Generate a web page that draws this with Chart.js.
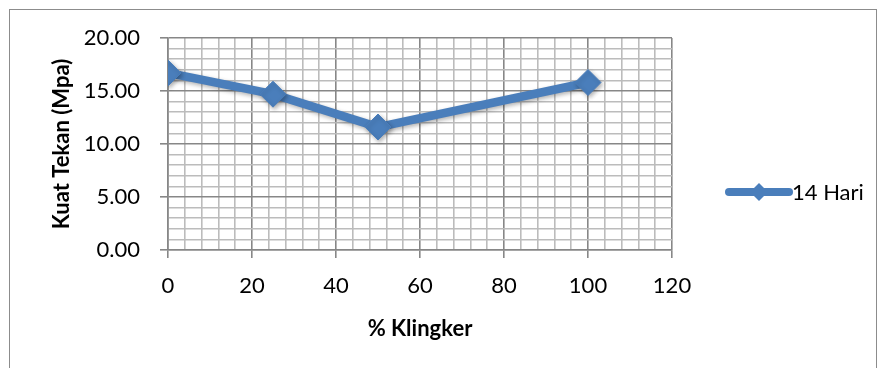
<!DOCTYPE html>
<html>
<head>
<meta charset="utf-8">
<script src="https://cdn.jsdelivr.net/npm/chart.js@4.4.1/dist/chart.umd.min.js"></script>
<style>
  html, body { margin: 0; padding: 0; background: #ffffff; }
  #wrap { position: relative; width: 883px; height: 368px; }
</style>
</head>
<body>
<div id="wrap"><canvas id="c" width="883" height="368"></canvas></div>
<script>
// Compressive strength at 14 days against clinker percentage
const seriesName = '14 Hari';
const klinkerPct = [0, 25, 50, 100];
const kuatTekan = [16.7, 14.7, 11.6, 15.8];

const xTitle = '% Klingker';
const yTitle = 'Kuat Tekan (Mpa)';
const xMin = 0, xMax = 120, xMajor = 20, xMinor = 4;
const yMin = 0, yMax = 20, yMajor = 5, yMinor = 1;

const lineColor = '#4a7ebb';
const majorGrid = '#878787';
const minorGrid = '#bcbcbc';
const fontFamily = 'Lato, "Open Sans", "DejaVu Sans", sans-serif';

const isMajor = (v, step) => Math.abs(v / step - Math.round(v / step)) < 1e-6;

// Outer frame of the chart object
const framePlugin = {
  id: 'frame',
  beforeDraw(chart) {
    const ctx = chart.ctx;
    ctx.save();
    ctx.fillStyle = '#ffffff';
    ctx.fillRect(0, 0, chart.width, chart.height);
    ctx.strokeStyle = '#8c8c8c';
    ctx.lineWidth = 1;
    ctx.strokeRect(9.5, 9.5, 867, 400);
    ctx.restore();
  }
};

// Soft drop shadow under the series line and markers
const shadowPlugin = {
  id: 'seriesShadow',
  beforeDatasetsDraw(chart) {
    const ctx = chart.ctx;
    ctx.save();
    ctx.shadowColor = 'rgba(0,0,0,0.3)';
    ctx.shadowBlur = 4;
    ctx.shadowOffsetX = 1.5;
    ctx.shadowOffsetY = 2;
  },
  afterDatasetsDraw(chart) {
    chart.ctx.restore();
  }
};

// Legend entry: line sample with a diamond marker, to the right of the plot
const legendPlugin = {
  id: 'sideLegend',
  afterDraw(chart) {
    const ctx = chart.ctx;
    const ds = chart.data.datasets[0];
    const x0 = 729, x1 = 789, y = 192;
    ctx.save();
    ctx.strokeStyle = ds.borderColor;
    ctx.lineWidth = 8;
    ctx.lineCap = 'round';
    ctx.beginPath();
    ctx.moveTo(x0, y);
    ctx.lineTo(x1, y);
    ctx.stroke();
    const cx = (x0 + x1) / 2, r = 9;
    ctx.fillStyle = ds.pointBackgroundColor;
    ctx.beginPath();
    ctx.moveTo(cx, y - r);
    ctx.lineTo(cx + r, y);
    ctx.lineTo(cx, y + r);
    ctx.lineTo(cx - r, y);
    ctx.closePath();
    ctx.fill();
    ctx.fillStyle = '#000000';
    ctx.font = '22px ' + fontFamily;
    ctx.textBaseline = 'middle';
    ctx.textAlign = 'left';
    ctx.fillText(ds.label, 792, y + 1);
    ctx.restore();
  }
};

new Chart(document.getElementById('c'), {
  type: 'scatter',
  data: {
    datasets: [{
      label: seriesName,
      data: klinkerPct.map((x, i) => ({ x: x, y: kuatTekan[i] })),
      showLine: true,
      borderColor: lineColor,
      backgroundColor: lineColor,
      pointBackgroundColor: lineColor,
      pointBorderColor: lineColor,
      borderWidth: 8.5,
      pointStyle: 'rectRot',
      pointRadius: 13,
      pointBorderWidth: 1,
      pointHoverRadius: 13,
      tension: 0
    }]
  },
  options: {
    responsive: false,
    animation: false,
    events: [],
    layout: { padding: { left: 0, top: 38, right: 211, bottom: 0 } },
    plugins: {
      legend: { display: false },
      tooltip: { enabled: false }
    },
    scales: {
      x: {
        type: 'linear',
        min: xMin, max: xMax,
        afterBuildTicks(scale) {
          const t = [];
          for (let v = xMin; v <= xMax + 1e-9; v += xMinor) t.push({ value: v });
          scale.ticks = t;
        },
        afterFit(scale) { scale.height = 118; },
        ticks: {
          autoSkip: false,
          maxRotation: 0,
          padding: 15,
          color: '#000000',
          font: { family: fontFamily, size: 22 },
          callback: (v) => isMajor(v, xMajor) ? String(v) : ''
        },
        grid: {
          drawTicks: true,
          tickLength: 8,
          color: (c) => isMajor(c.tick.value, xMajor) ? majorGrid : minorGrid,
          tickColor: (c) => isMajor(c.tick.value, xMajor) ? majorGrid : 'rgba(0,0,0,0)',
          lineWidth: 1.6
        },
        border: { color: majorGrid, width: 1.6 },
        title: {
          display: true,
          text: xTitle,
          color: '#000000',
          font: { family: fontFamily, size: 22, weight: 'bold' },
          padding: { top: 0, bottom: 26 }
        }
      },
      y: {
        type: 'linear',
        min: yMin, max: yMax,
        afterBuildTicks(scale) {
          const t = [];
          for (let v = yMin; v <= yMax + 1e-9; v += yMinor) t.push({ value: v });
          scale.ticks = t;
        },
        afterFit(scale) { scale.width = 168; },
        ticks: {
          autoSkip: false,
          padding: 20,
          color: '#000000',
          font: { family: fontFamily, size: 22 },
          callback: (v) => isMajor(v, yMajor) ? v.toFixed(2) : ''
        },
        grid: {
          drawTicks: true,
          tickLength: 8,
          color: (c) => isMajor(c.tick.value, yMajor) ? majorGrid : minorGrid,
          tickColor: (c) => isMajor(c.tick.value, yMajor) ? majorGrid : 'rgba(0,0,0,0)',
          lineWidth: 1.6
        },
        border: { color: majorGrid, width: 1.6 },
        title: {
          display: true,
          text: yTitle,
          color: '#000000',
          font: { family: fontFamily, size: 22, weight: 'bold' },
          padding: { top: 49, bottom: 0 }
        }
      }
    }
  },
  plugins: [framePlugin, shadowPlugin, legendPlugin]
});
</script>
</body>
</html>
